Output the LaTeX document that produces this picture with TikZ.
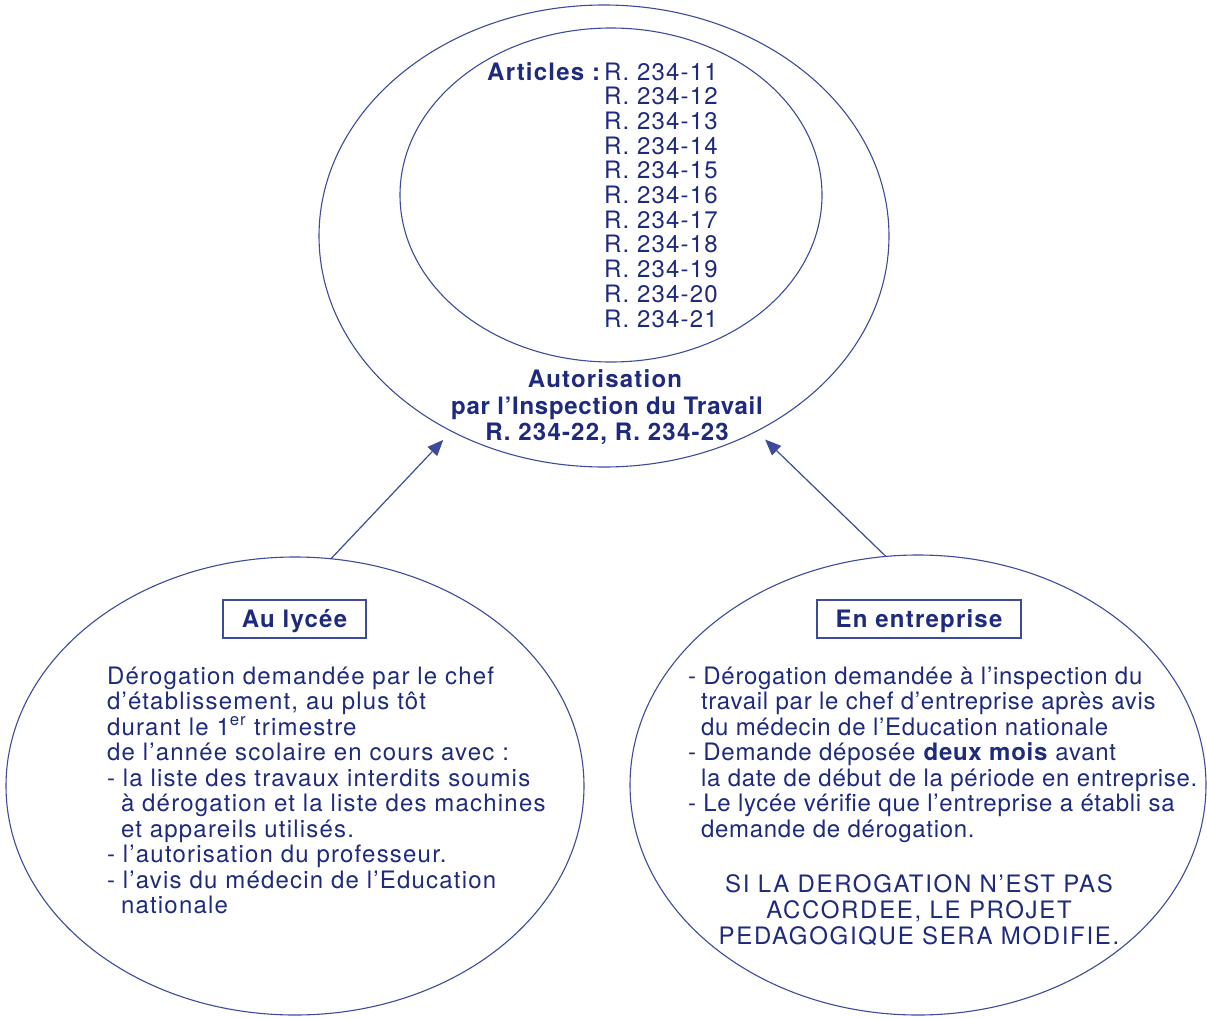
\documentclass[tikz,border=0pt]{standalone}
\usepackage{fontspec}
\setmainfont{TeX Gyre Heros}[LetterSpace=5]
\newfontfamily\tightfont{TeX Gyre Heros}[LetterSpace=3]
\newfontfamily\widefont{TeX Gyre Heros}[LetterSpace=7]
\usetikzlibrary{shapes.geometric,arrows.meta}
\definecolor{ink}{RGB}{30,42,125}
\definecolor{linec}{RGB}{60,75,155}
\begin{document}
\begin{tikzpicture}[x=1pt,y=-1pt,
  txt/.style={inner sep=0pt, outer sep=0pt, text=ink, font=\fontsize{24}{25.5}\selectfont},
  btxt/.style={txt, font=\fontsize{24}{25.5}\selectfont\bfseries},
  rtxt/.style={txt, font=\fontsize{24}{25.5}\tightfont},
  ctxt/.style={txt, font=\fontsize{24}{25.5}\widefont},
  ell/.style={draw=linec, line width=1.1pt, ellipse, inner sep=0pt, outer sep=0pt},
  tagbox/.style={draw=linec, line width=1.3pt, inner sep=0pt, outer sep=0pt},
  conn/.style={draw=linec, line width=1.2pt, -{Triangle[length=16pt,width=13pt]}, shorten >=12pt}]
\useasboundingbox (0,0) rectangle (1207,1017);

% ellipses
\node[ell, minimum width=570pt, minimum height=462pt] (T) at (604,236) {};
\node[ell, minimum width=422pt, minimum height=334pt] (I) at (611,195) {};
\node[ell, minimum width=578pt, minimum height=458pt] (L) at (295,786) {};
\node[ell, minimum width=576pt, minimum height=460pt] (R) at (918,785) {};

% arrows
\draw[conn] (L.81) -- (T.232);
\draw[conn] (R.98.4) -- (T.308);

% top texts
\node[btxt, anchor=base east] (art) at (600,80) {Articles :};
\foreach \n [count=\i from 0] in {11,12,13,14,15,16,17,18,19,20,21}
  \node[txt, anchor=base west] (r\n) at (604,80+24.7*\i) {R. 234-\n};
\node[btxt, anchor=base] (aut1) at (605,387) {Autorisation};
\node[btxt, anchor=base] (aut2) at (607,414) {\tightfont\bfseries par l’Inspection du Travail};
\node[btxt, anchor=base] (aut3) at (607,440) {R. 234-22, R. 234-23};

% left
\node[tagbox, minimum width=143pt, minimum height=38pt] (boxL) at (294.5,619) {};
\node[btxt, anchor=base] (tL) at (294.5,627) {Au lycée};
\node[txt, anchor=base west] (l1) at (107,684) {Dérogation demandée par le chef};
\node[txt, anchor=base west] (l2) at (107,709.5) {d’établissement, au plus tôt};
\node[txt, anchor=base west] (l3) at (107,735) {durant le 1\textsuperscript{er} trimestre};
\node[txt, anchor=base west] (l4) at (107,760.5) {de l’année scolaire en cours avec :};
\node[txt, anchor=base west] (l5) at (107,786) {- la liste des travaux interdits soumis};
\node[txt, anchor=base west] (l6) at (121,811.5) {à dérogation et la liste des machines};
\node[txt, anchor=base west] (l7) at (121,837) {et appareils utilisés.};
\node[txt, anchor=base west] (l8) at (107,862.5) {- l’autorisation du professeur.};
\node[txt, anchor=base west] (l9) at (107,888) {- l’avis du médecin de l’Education};
\node[txt, anchor=base west] (l10) at (121,913.5) {nationale};

% right
\node[tagbox, minimum width=204pt, minimum height=38pt] (boxR) at (919,619) {};
\node[btxt, anchor=base] (tR) at (919,627) {En entreprise};
\node[rtxt, anchor=base west] (e1) at (688,684) {- Dérogation demandée à l’inspection du};
\node[rtxt, anchor=base west] (e2) at (701,709.5) {travail par le chef d’entreprise après avis};
\node[rtxt, anchor=base west] (e3) at (701,735) {du médecin de l’Education nationale};
\node[rtxt, anchor=base west] (e4) at (688,760.5) {- Demande déposée \textbf{deux mois} avant};
\node[rtxt, anchor=base west] (e5) at (701,786) {la date de début de la période en entreprise.};
\node[rtxt, anchor=base west] (e6) at (688,811.5) {- Le lycée vérifie que l’entreprise a établi sa};
\node[rtxt, anchor=base west] (e7) at (701,837) {demande de dérogation.};
\node[ctxt, anchor=base] (s1) at (919,892) {SI LA DEROGATION N’EST PAS};
\node[ctxt, anchor=base] (s2) at (919,918) {ACCORDEE, LE PROJET};
\node[ctxt, anchor=base] (s3) at (919,944) {PEDAGOGIQUE SERA MODIFIE.};
\end{tikzpicture}
\end{document}
